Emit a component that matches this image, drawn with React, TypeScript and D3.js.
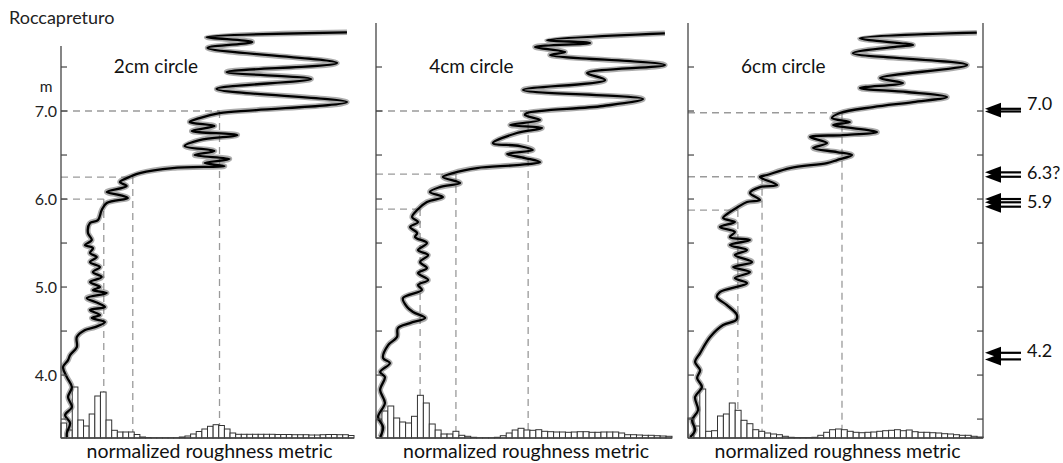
import * as d3 from 'd3'
import React from 'react'

// depth (m) vs normalized roughness, read off the black (mean) profile
const profile2cm: [number, number][] = [
  [7.894, 0.976], [7.841, 0.497], [7.784, 0.653], [7.716, 0.5], [7.545, 0.942], [7.443, 0.565],
  [7.364, 0.854], [7.25, 0.531], [7.102, 0.976], [7.011, 0.667], [6.977, 0.541], [6.92, 0.473],
  [6.875, 0.439], [6.83, 0.524], [6.773, 0.446], [6.727, 0.602], [6.67, 0.473], [6.602, 0.422],
  [6.545, 0.524], [6.5, 0.456], [6.455, 0.575], [6.409, 0.49], [6.375, 0.558], [6.352, 0.381],
  [6.295, 0.269], [6.261, 0.241], [6.193, 0.201], [6.148, 0.224], [6.08, 0.156], [6.045, 0.201],
  [6.011, 0.228], [5.955, 0.156], [5.875, 0.139], [5.761, 0.126], [5.727, 0.099], [5.614, 0.092],
  [5.534, 0.105], [5.477, 0.082], [5.443, 0.109], [5.386, 0.099], [5.341, 0.122], [5.284, 0.099],
  [5.227, 0.133], [5.17, 0.109], [5.114, 0.139], [5.057, 0.099], [5.0, 0.133], [4.966, 0.109],
  [4.932, 0.156], [4.875, 0.088], [4.818, 0.126], [4.773, 0.15], [4.739, 0.099], [4.682, 0.133],
  [4.648, 0.105], [4.602, 0.15], [4.545, 0.116], [4.511, 0.082], [4.432, 0.054], [4.318, 0.054],
  [4.227, 0.031], [4.17, 0.024], [4.091, 0.007], [3.977, 0.02], [3.864, 0.037], [3.75, 0.024],
  [3.636, 0.037], [3.545, 0.014], [3.455, 0.031], [3.341, 0.02], [3.295, 0.02],
]

const profile4cm: [number, number][] = [
  [7.883, 0.976], [7.807, 0.578], [7.773, 0.723], [7.727, 0.537], [7.67, 0.639], [7.636, 0.588],
  [7.523, 0.976], [7.432, 0.713], [7.352, 0.774], [7.239, 0.497], [7.136, 0.902], [7.057, 0.767],
  [6.977, 0.51], [6.955, 0.503], [6.898, 0.554], [6.841, 0.453], [6.807, 0.561], [6.75, 0.476],
  [6.636, 0.395], [6.602, 0.486], [6.557, 0.53], [6.511, 0.443], [6.466, 0.503], [6.42, 0.554],
  [6.386, 0.476], [6.352, 0.341], [6.295, 0.26], [6.25, 0.226], [6.182, 0.284], [6.136, 0.216],
  [6.08, 0.182], [6.023, 0.226], [5.966, 0.172], [5.875, 0.139], [5.795, 0.122], [5.739, 0.142],
  [5.682, 0.115], [5.614, 0.139], [5.568, 0.132], [5.5, 0.172], [5.42, 0.142], [5.364, 0.176],
  [5.284, 0.149], [5.216, 0.172], [5.159, 0.142], [5.08, 0.176], [5.023, 0.142], [4.966, 0.155],
  [4.875, 0.091], [4.773, 0.105], [4.716, 0.125], [4.648, 0.166], [4.591, 0.115], [4.534, 0.074],
  [4.432, 0.071], [4.341, 0.041], [4.193, 0.024], [4.136, 0.047], [4.034, 0.014], [3.977, 0.03],
  [3.83, 0.014], [3.682, 0.03], [3.523, 0.007], [3.409, 0.024], [3.295, 0.014],
]

const profile6cm: [number, number][] = [
  [7.89, 0.979], [7.826, 0.583], [7.75, 0.763], [7.731, 0.708], [7.656, 0.559], [7.523, 0.946],
  [7.375, 0.651], [7.318, 0.729], [7.261, 0.583], [7.216, 0.742], [7.159, 0.878], [7.102, 0.763],
  [7.045, 0.627], [6.977, 0.515], [6.92, 0.488], [6.875, 0.549], [6.841, 0.492], [6.761, 0.641],
  [6.727, 0.525], [6.705, 0.414], [6.636, 0.471], [6.58, 0.424], [6.534, 0.505], [6.5, 0.556],
  [6.443, 0.505], [6.409, 0.471], [6.352, 0.346], [6.273, 0.268], [6.25, 0.244], [6.159, 0.302],
  [6.136, 0.244], [6.068, 0.21], [5.989, 0.244], [5.966, 0.2], [5.909, 0.169], [5.852, 0.142],
  [5.784, 0.119], [5.739, 0.159], [5.682, 0.108], [5.625, 0.159], [5.568, 0.142], [5.534, 0.21],
  [5.477, 0.142], [5.42, 0.2], [5.364, 0.159], [5.284, 0.217], [5.227, 0.153], [5.17, 0.21],
  [5.102, 0.159], [5.045, 0.2], [4.943, 0.108], [4.886, 0.098], [4.795, 0.132], [4.682, 0.166],
  [4.625, 0.163], [4.568, 0.119], [4.432, 0.075], [4.25, 0.041], [4.148, 0.024], [4.057, 0.041],
  [3.966, 0.031], [3.864, 0.047], [3.75, 0.024], [3.602, 0.034], [3.489, 0.014], [3.375, 0.024],
  [3.295, 0.007],
]

// histogram counts (relative), equal bins over 0..1
const hist2cm = [
  15, 8, 51, 18, 12, 24, 42, 46, 18, 7.7, 6, 6, 6, 3.5, 1, 0.5, 0.3, 0.3, 0.3, 0.3, 0.3, 1, 2, 4, 6.5, 9,
  11.7, 13.3, 12.5, 9, 5, 3.7, 3.7, 3.7, 3.7, 3.7, 3.7, 3.7, 3.5, 3.5, 3.5, 3.3, 3.3, 3.3, 3, 3, 3.3, 3.5,
  3.5, 3.3, 3.3, 2.5,
]
const hist4cm = [
  18, 27, 32, 20, 16, 15, 21.7, 42.7, 35, 14, 8, 4, 4, 6.7, 2.7, 1.7, 0.7, 0.3, 0.3, 0.3, 0.7, 2.3, 5, 8,
  9.7, 8, 7.7, 8.3, 6.7, 6.3, 6, 6, 5.7, 6, 6.3, 6.3, 5.7, 5.7, 6, 6, 6, 5, 3.3, 3.3, 3, 2.7, 2.7, 2.3,
  2, 1.7,
]
const hist6cm = [
  20, 12, 49, 6.7, 7.3, 22, 24, 35, 27.7, 17.7, 14.3, 8.3, 6.7, 5, 4, 3.3, 1.7, 0.7, 0.5, 0.5, 0.5, 0.7,
  2.7, 5.7, 8.3, 9, 8.3, 6.7, 5.7, 5.3, 5.7, 6, 6.7, 7.3, 7.7, 8.3, 7.3, 8, 6.3, 5.7, 5.7, 5.3, 5, 4.3, 4,
  3.3, 2.7, 2.7, 1.7, 1,
]

// dashed picks: [depth, roughness]
const picks2cm: [number, number][] = [[7.0, 0.541], [6.25, 0.245], [6.0, 0.146]]
const picks4cm: [number, number][] = [[7.0, 0.514], [6.284, 0.27], [5.886, 0.149]]
const picks6cm: [number, number][] = [[6.98, 0.522], [6.253, 0.251], [5.875, 0.169]]

const panelTitles = ['2cm circle', '4cm circle', '6cm circle']
const depthTicks = [3.5, 4.0, 4.5, 5.0, 5.5, 6.0, 6.5, 7.0, 7.5]
const labeledTicks = [4.0, 5.0, 6.0, 7.0]

const markerLabels = ['7.0', '6.3?', '5.9', '4.2']
const markerLabelDepths = [7.01, 6.23, 5.9, 4.2]
const markerDepths = [[7.025, 6.995], [6.303, 6.253], [6.0, 5.963, 5.913], [4.253, 4.178]]

const W = 1063
const H = 463
const FONT = 'Lato, "Open Sans", sans-serif'

export default function App() {
  const y = d3.scaleLinear().domain([3.285, 7.75]).range([438, 45])
  const spans: [number, number][] = [[61, 354], [376, 672], [688, 983]]
  const axisTops = [46, 23, 23]
  const profiles = [profile2cm, profile4cm, profile6cm]
  const hists = [hist2cm, hist4cm, hist6cm]
  const picks = [picks2cm, picks4cm, picks6cm]
  const hScale = d3.scaleLinear().domain([0, 100]).range([0, 100])
  const axisColor = '#444'
  const bottom = y(3.285)

  return (
    <svg width={W} height={H} style={{ position: 'absolute', left: 0, top: 0, background: '#fff' }}
      fontFamily={FONT}>
      <text x={9} y={24} fontSize={18} fill="#222">Roccapreturo</text>
      <text x={46} y={92} fontSize={15.5} textAnchor="middle" fill="#222">m</text>
      {labeledTicks.map((t) => (
        <text key={t} x={57} y={y(t) + 5.5} fontSize={16} textAnchor="end" fill="#222">{t.toFixed(1)}</text>
      ))}

      {spans.map(([x0, x1], pi) => {
        const x = d3.scaleLinear().domain([0, 1]).range([x0, x1])
        const hist = hists[pi]
        const n = hist.length
        const line = d3.line<[number, number]>()
          .x((p) => x(p[1]))
          .y((p) => y(p[0]))
          .curve(d3.curveCatmullRom.alpha(0.5))
        const path = line(profiles[pi]) || ''
        return (
          <g key={pi}>
            {/* dashed picks */}
            {picks[pi].map(([d, r], i) => (
              <g key={i} stroke="#9a9a9a" strokeWidth={1.3} strokeDasharray="7,5" fill="none">
                <line x1={x0} x2={x(r)} y1={y(d)} y2={y(d)} />
                <line x1={x(r)} x2={x(r)} y1={y(d)} y2={bottom} />
              </g>
            ))}
            {/* histogram */}
            {hist.map((v, i) => (
              <rect key={i} x={x(i / n)} y={bottom - hScale(v)} width={x((i + 1) / n) - x(i / n)}
                height={hScale(v)} fill="#fff" stroke="#333" strokeWidth={1} />
            ))}
            {/* profile: gray spread + black mean */}
            <path d={path} fill="none" stroke="#5a5a5a" strokeOpacity={0.5} strokeWidth={5.5} strokeLinejoin="round" />
            <path d={path} fill="none" stroke="#000" strokeWidth={2.3} strokeLinejoin="round" />
            {/* axes */}
            <line x1={x0} x2={x0} y1={axisTops[pi]} y2={bottom} stroke={axisColor} strokeWidth={1.3} />
            <line x1={x0} x2={x1} y1={bottom} y2={bottom} stroke={axisColor} strokeWidth={1.3} />
            {depthTicks.map((t) => (
              <line key={t} x1={x0} x2={x0 + 6} y1={y(t)} y2={y(t)} stroke={axisColor} strokeWidth={1.2} />
            ))}
            {pi === 2 && (
              <g>
                <line x1={x1} x2={x1} y1={axisTops[pi]} y2={bottom} stroke={axisColor} strokeWidth={1.3} />
                {depthTicks.map((t) => (
                  <line key={t} x1={x1} x2={x1 - 6} y1={y(t)} y2={y(t)} stroke={axisColor} strokeWidth={1.2} />
                ))}
              </g>
            )}
            <text x={x(0.18)} y={73} fontSize={19} fill="#111">{panelTitles[pi]}</text>
            <text x={(x0 + x1) / 2 + 2} y={458} fontSize={19.5} textAnchor="middle" fill="#111">
              normalized roughness metric
            </text>
          </g>
        )
      })}

      {/* interpreted depths, right side */}
      {markerDepths.map((ds, mi) => (
        <g key={mi}>
          {ds.map((d, k) => (
            <g key={k}>
              <line x1={998} x2={1021} y1={y(d)} y2={y(d)} stroke="#000" strokeWidth={2.2} />
              <path d={`M985,${y(d)} L1001,${y(d) - 6} L1001,${y(d) + 6} Z`} fill="#000" />
            </g>
          ))}
          <text x={1027} y={y(markerLabelDepths[mi])} fontSize={18} fill="#111">{markerLabels[mi]}</text>
        </g>
      ))}
    </svg>
  )
}
